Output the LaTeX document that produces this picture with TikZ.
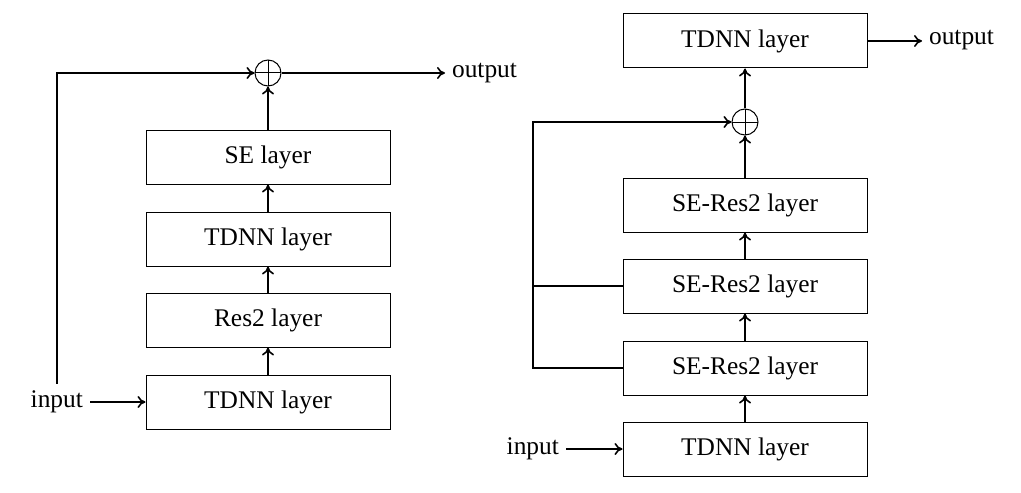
\documentclass[tikz,border=0pt]{standalone}
\usepackage{fontspec}
\setmainfont{Liberation Serif}
\usetikzlibrary{arrows.meta}
\begin{document}
\begin{tikzpicture}[x=0.5pt,y=-0.5pt,
  layerbox/.style={draw, line width=0.5pt, minimum width=122pt, minimum height=27pt, inner sep=0pt, font=\fontsize{12.7}{14}\selectfont},
  plusnode/.style={draw, circle, line width=0.5pt, minimum size=13pt, inner sep=0pt,
    path picture={\draw[line width=0.5pt] (path picture bounding box.north) -- (path picture bounding box.south) (path picture bounding box.west) -- (path picture bounding box.east);}},
  lbl/.style={font=\fontsize{12.7}{14}\selectfont},
  flow/.style={line width=0.8pt, -{To[length=4pt,width=6pt]}},
  wire/.style={line width=0.8pt}]
\useasboundingbox (0,0) rectangle (1021,492);
% left
\node[layerbox] (L1) at (268,402) {TDNN layer};
\node[layerbox] (L2) at (268,320) {Res2 layer};
\node[layerbox] (L3) at (268,239) {TDNN layer};
\node[layerbox] (L4) at (268,157) {SE layer};
\node[plusnode] (Lp) at (268,73) {};
\node[lbl, anchor=west] (Lout) at (445,73) {output};
\node[lbl, anchor=east] (Lin) at (90,402) {input};
\draw[flow] (Lin.east) -- (L1.west);
\draw[flow] (L1.north) -- (L2.south);
\draw[flow] (L2.north) -- (L3.south);
\draw[flow] (L3.north) -- (L4.south);
\draw[flow] (L4.north) -- (Lp.south);
\draw[flow] (Lp.east) -- (Lp.east -| Lout.west);
\draw[flow] (Lin.north) |- (Lp.west);
% right
\node[layerbox] (R1) at (745,449) {TDNN layer};
\node[layerbox] (R2) at (745,368) {SE-Res2 layer};
\node[layerbox] (R3) at (745,286) {SE-Res2 layer};
\node[layerbox] (R4) at (745,205) {SE-Res2 layer};
\node[plusnode] (Rp) at (745,122) {};
\node[layerbox] (R5) at (745,41) {TDNN layer};
\node[lbl, anchor=west] (Rout) at (922,40) {output};
\node[lbl, anchor=east] (Rin) at (566,449) {input};
\coordinate (Rc) at (533,368);
\draw[flow] (Rin.east) -- (R1.west);
\draw[flow] (R1.north) -- (R2.south);
\draw[flow] (R2.north) -- (R3.south);
\draw[flow] (R3.north) -- (R4.south);
\draw[flow] (R4.north) -- (Rp.south);
\draw[flow] (Rp.north) -- (R5.south);
\draw[flow] (R5.east) -- (R5.east -| Rout.west);
\draw[flow] (R2.west) -- (Rc) |- (Rp.west);
\draw[wire] (R3.west) -- (Rc |- R3.west);
\end{tikzpicture}
\end{document}
